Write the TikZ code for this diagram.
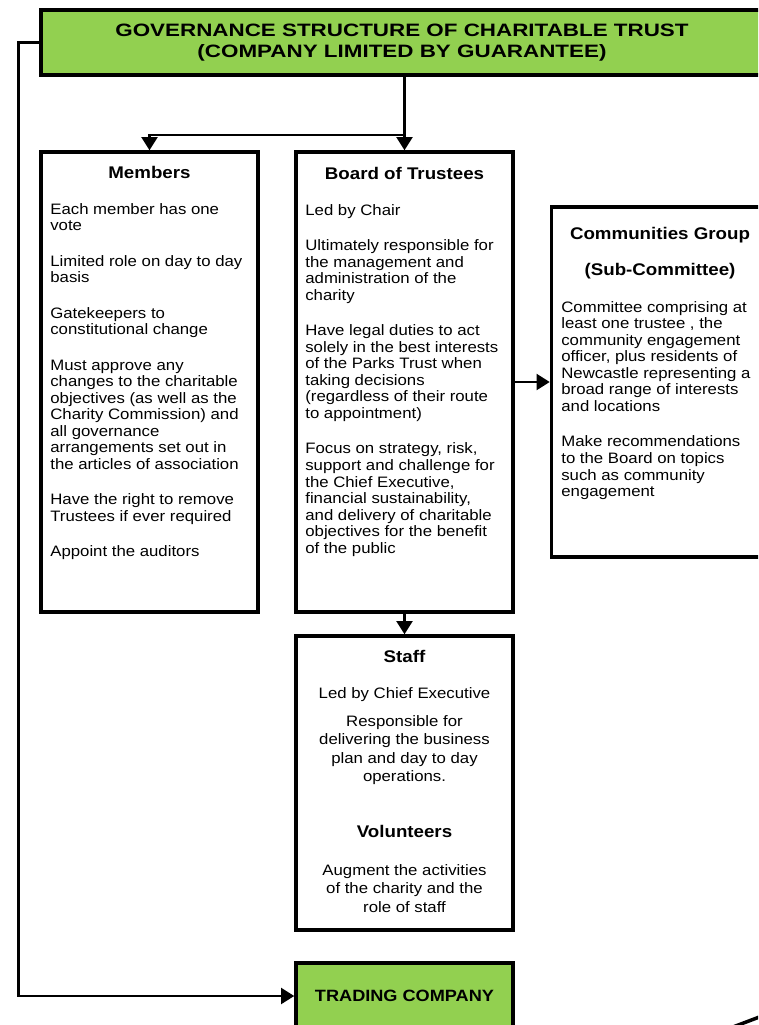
\documentclass[tikz,border=0pt]{standalone}
\usepackage{fontspec}
\setmainfont{Liberation Sans}[FakeStretch=1.11]
\newfontfamily\titlefont{Liberation Sans}[FakeStretch=1.25]
\usetikzlibrary{arrows.meta,positioning,calc}
\definecolor{trustgreen}{HTML}{92D050}
\def\gap{10.77pt}
\begin{document}
\begin{tikzpicture}[x=0.02cm,y=-0.02cm,
    box/.style={draw,line width=2pt,rectangle,minimum width=4.34cm,inner sep=0pt},
    greenbox/.style={box,fill=trustgreen},
    head/.style={inner sep=0pt,anchor=base,align=center,font=\fontsize{9.6}{11}\selectfont\bfseries},
    body/.style={inner sep=0pt,anchor=north west,align=left,font=\fontsize{8.6}{9.41}\selectfont},
    mid/.style={inner sep=0pt,anchor=north,align=center,font=\fontsize{8.6}{10.5}\selectfont},
    arr/.style={line width=1.5pt,-{Triangle[length=7.5pt,width=9pt]}},
    link/.style={line width=1.5pt}]
    \useasboundingbox (0,0) rectangle (758,1025);
    \clip (0,0) rectangle (758,1025);
    % boxes
    \node[greenbox,minimum width=14.44cm,minimum height=1.3cm,align=center,
          font=\titlefont\fontsize{10.2}{12.4}\selectfont\bfseries] (title) at (402,42.5)
          {GOVERNANCE STRUCTURE OF CHARITABLE TRUST\\(COMPANY LIMITED BY GUARANTEE)};
    \node[box,minimum height=9.2cm] (members) at (149.5,382) {};
    \node[box,minimum height=9.2cm] (board) at (404.5,382) {};
    \node[box,minimum height=7cm] (comm) at (660,382) {};
    \node[box,minimum height=5.88cm] (staff) at (404.5,783) {};
    \node[greenbox,minimum height=1.32cm,font=\fontsize{9.3}{11}\selectfont\bfseries] (trading) at (404.5,996) {TRADING COMPANY};
    % members
    \node[head] (memhead) at (149.5,178) {Members};
    \node[body] (membody) at (50,203) {Each member has one\\vote\\[\gap]
        Limited role on day to day\\basis\\[\gap]
        Gatekeepers to\\constitutional change\\[\gap]
        Must approve any\\changes to the charitable\\objectives (as well as the\\Charity Commission) and\\all governance\\arrangements set out in\\the articles of association\\[\gap]
        Have the right to remove\\Trustees if ever required\\[\gap]
        Appoint the auditors};
    % board
    \node[head] (boardhead) at (404.5,179) {Board of Trustees};
    \node[body] (boardbody) at (305,204) {Led by Chair\\[\gap]
        Ultimately responsible for\\the management and\\administration of the\\charity\\[\gap]
        Have legal duties to act\\solely in the best interests\\of the Parks Trust when\\taking decisions\\(regardless of their route\\to appointment)\\[\gap]
        Focus on strategy, risk,\\support and challenge for\\the Chief Executive,\\financial sustainability,\\and delivery of charitable\\objectives for the benefit\\of the public};
    % communities group
    \node[head] (commhead) at (660,239) {Communities Group};
    \node[head] (commsub) at (660,275) {(Sub-Committee)};
    \node[body] (commbody) at (561,301) {Committee comprising at\\least one trustee , the\\community engagement\\officer, plus residents of\\Newcastle representing a\\broad range of interests\\and locations\\[\gap]
        Make recommendations\\to the Board on topics\\such as community\\engagement};
    % staff
    \node[head] (staffhead) at (404.5,662) {Staff};
    \node[mid,anchor=base] (staffled) at (404.5,698) {Led by Chief Executive};
    \node[mid] (staffbody) at (404.5,715) {Responsible for\\delivering the business\\plan and day to day\\operations.};
    \node[head] (volhead) at (404.5,837) {Volunteers};
    \node[mid] (volbody) at (404.5,864) {Augment the activities\\of the charity and the\\role of staff};
    % connectors
    \coordinate (split) at (404.5,135);
    \draw[link] (title.south -| board.north) -- (split);
    \draw[arr] (split) -- (board.north);
    \draw[arr] (split) -| (members.north);
    \draw[arr] (board.east) -- (comm.west);
    \draw[arr] (board.south) -- (staff.north);
    \draw[arr] (title.west) -- ++(-21,0) |- (trading.west);
    \coordinate (tailA) at (733,1027);
    \coordinate (tailB) at (762,1016);
    \draw[line width=2pt] (tailA) -- (tailB);
\end{tikzpicture}
\end{document}
